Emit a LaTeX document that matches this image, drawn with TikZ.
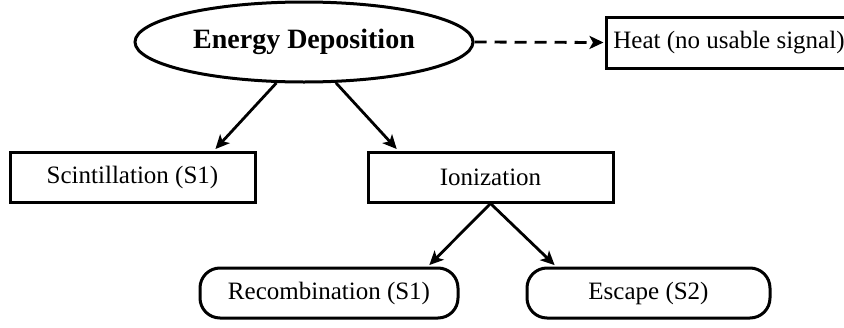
\documentclass[tikz,border=0pt]{standalone}
\usepackage{fontspec}
\setmainfont{Liberation Serif}
\usetikzlibrary{shapes.geometric,arrows.meta}
\begin{document}
\begin{tikzpicture}[x=1pt,y=-1pt,
  box/.style={draw, line width=3pt, minimum width=245pt, minimum height=50pt, inner sep=0pt, font=\fontsize{25}{30}\selectfont},
  pill/.style={box, rounded corners=20pt},
  oval/.style={draw, ellipse, line width=3pt, minimum width=338pt, minimum height=80pt, inner sep=0pt, font=\fontsize{28}{34}\selectfont\bfseries},
  arr/.style={line width=2.8pt, -{Stealth[length=14pt,width=13pt,inset=3.5pt]}, shorten >=2pt}]
\useasboundingbox (0,0) rectangle (844,327);
\clip (0,0) rectangle (844,327);
\node[oval] (ed) at (304,42) {Energy Deposition};
\node[box, minimum width=246pt, minimum height=51pt] (heat) at (729,42.5) {Heat (no usable signal)};
\node[box] (sc) at (132.5,177) {Scintillation (S1)};
\node[box] (io) at (490.5,177) {Ionization};
\node[pill, minimum width=258pt] (rc) at (329,293) {Recombination (S1)};
\node[pill, minimum width=243pt] (es) at (648.5,293) {Escape (S2)};
\draw[arr, dash pattern=on 12pt off 8pt, shorten >=1pt] (ed.east) -- (heat.west);
\draw[arr] (ed.236) -- (sc.18);
\draw[arr] (ed.308) -- (io.164);
\draw[arr] (io.south) -- (rc.15);
\draw[arr] (io.south) -- (es.164);
\end{tikzpicture}
\end{document}
